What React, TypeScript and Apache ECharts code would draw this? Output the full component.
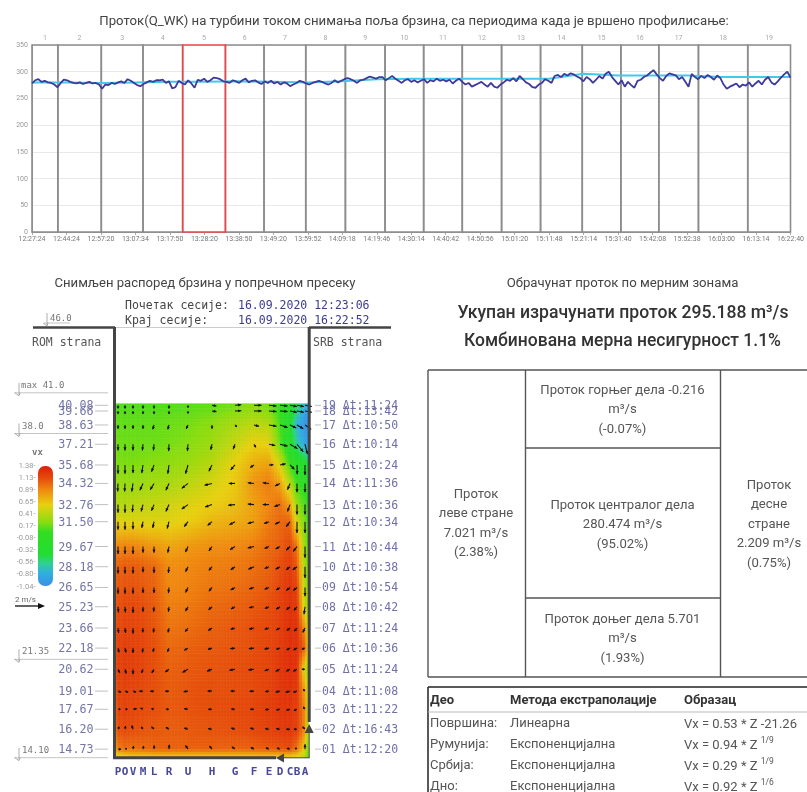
import React, { useEffect, useRef } from "react";
import * as echarts from "echarts";

const timeLabels = ["12:27:24","12:44:24","12:57:20","13:07:34","13:17:50","13:28:20","13:38:50","13:49:20","13:59:52","14:09:18","14:19:46","14:30:14","14:40:42","14:50:56","15:01:20","15:11:48","15:21:14","15:31:40","15:42:08","15:52:38","16:03:00","16:13:14","16:22:40"];
const periodBounds = [0,0.75,2.01,3.22,4.37,5.61,6.73,7.94,9.09,10.24,11.36,12.48,13.62,14.75,15.96,17.08,18.18,19.33,20.76,22];
const flow = [
278,284,286,281,283,280,279,276,271,279,
285,284,281,279,278,280,277,279,281,278,
279,276,268,276,275,279,277,280,282,279,
286,283,279,275,273,277,280,283,281,284,
284,285,279,282,269,271,283,279,276,284,
278,270,285,283,287,281,284,289,288,286,
282,281,279,284,282,279,284,287,280,283,
284,280,277,282,279,283,278,281,276,280,
278,273,276,279,283,281,278,276,279,281,
283,281,278,276,279,284,280,283,286,288,
286,283,279,284,285,288,291,289,287,290,
290,284,288,292,287,283,279,284,286,281,
284,280,283,286,279,284,282,287,283,285,
282,285,278,283,287,281,276,279,272,275,
278,281,276,272,279,272,270,276,280,285,
283,288,282,292,286,280,277,271,270,276,
279,286,283,279,292,294,290,296,293,297,
295,291,288,282,290,286,279,285,292,287,
296,300,290,283,276,284,272,281,275,270,
283,285,290,293,298,303,295,288,283,292,
297,295,293,286,290,281,272,296,290,286,
292,288,294,290,285,293,288,276,268,272,275,
];
const flowTail = [278,271,276,274,280,272,278,283,276,285,290,280,276,282,289,295,300,289];
const flowTrend = [280,280,279,280,281,281,282,281,280,282,286,287,287,287,287,287,296,293,293,293,290,290,290];
const yTicks = [0,50,100,150,200,250,300,350];

const depthLevels = [40.08,39.66,38.63,37.21,35.68,34.32,32.76,31.50,29.67,28.18,26.65,25.23,23.66,22.18,20.62,19.01,17.67,16.20,14.73];
const rowIds = ["19","18","17","16","15","14","13","12","11","10","09","08","07","06","05","04","03","02","01"];
const rowDurations = ["11:24","13:42","10:50","10:14","10:24","11:36","10:36","10:34","10:44","10:38","10:54","10:42","11:24","10:36","11:24","11:08","11:22","16:43","12:20"];
const columnNames = ["P","O","V","M","L","R","U","H","G","F","E","D","C","B","A"];
const stations = [1.5,5,9,14,19.5,27,36.5,48.5,60,69.5,77,82.5,87.5,91,95];
const heatStations = [0,1.5,5,9,14,19.5,27,36.5,48.5,60,69.5,77,82.5,87.5,91,95,97];
const heatDepths = [40.19,40.08,39.66,38.63,37.21,35.68,34.32,32.76,31.50,29.67,28.18,26.65,25.23,23.66,22.18,20.62,19.01,17.67,16.20,14.73,14.1];
const heat = [
[.12,.12,.12,.12,.12,.12,.12,.12,.15,.2,.25,.2,.05,-.15,-.45,-.7,-.8],
[.12,.12,.12,.12,.12,.12,.12,.13,.16,.2,.26,.21,.05,-.15,-.48,-.75,-.8],
[.13,.13,.13,.13,.13,.13,.14,.15,.18,.24,.3,.25,.05,-.2,-.55,-.85,-.9],
[.18,.16,.16,.16,.16,.16,.18,.2,.27,.36,.44,.4,.1,-.3,-.75,-1.0,-1.0],
[.2,.18,.18,.18,.18,.18,.2,.24,.32,.46,.6,.58,.18,-.2,-.6,-.85,-.9],
[.25,.22,.22,.22,.24,.26,.28,.32,.42,.6,.74,.8,.55,.08,-.12,-.3,-.4],
[.32,.3,.3,.3,.32,.34,.36,.42,.52,.62,.85,.95,.8,.4,.08,-.02,-.05],
[.42,.4,.4,.42,.44,.46,.5,.55,.6,.66,.8,.9,1.0,.8,.3,.1,.05],
[.6,.56,.55,.55,.55,.55,.56,.6,.7,.75,.8,.95,1.02,1.05,.5,.2,.1],
[.88,.9,.92,.92,.88,.84,.78,.83,.88,.9,.94,1.02,1.06,1.15,1.0,.28,.15],
[1.02,1.05,1.07,1.07,1.05,1.02,.88,.9,.94,.96,1.0,1.04,1.12,1.2,1.1,.32,.2],
[1.05,1.08,1.1,1.1,1.08,1.05,.9,.92,.97,1.0,1.04,1.08,1.16,1.25,1.2,.38,.25],
[1.07,1.12,1.14,1.14,1.12,1.08,.94,.96,1.02,1.05,1.08,1.12,1.18,1.26,1.25,.45,.3],
[1.1,1.14,1.16,1.16,1.14,1.1,.98,1.0,1.05,1.08,1.12,1.14,1.2,1.28,1.28,.85,.4],
[1.1,1.18,1.2,1.18,1.16,1.12,1.02,1.05,1.08,1.1,1.12,1.16,1.22,1.28,1.28,1.05,.5],
[1.08,1.18,1.2,1.19,1.16,1.12,1.05,1.08,1.1,1.12,1.14,1.16,1.24,1.28,1.28,.5,.3],
[1.05,1.16,1.18,1.16,1.14,1.12,1.07,1.1,1.12,1.12,1.14,1.18,1.24,1.26,1.24,.8,.4],
[1.02,1.15,1.17,1.15,1.13,1.12,1.08,1.1,1.12,1.14,1.16,1.2,1.24,1.24,1.2,.9,.35],
[.98,1.12,1.14,1.12,1.1,1.08,1.06,1.08,1.1,1.12,1.15,1.18,1.22,1.24,1.2,.9,.2],
[.8,.95,1.0,1.0,1.02,1.04,1.05,1.05,1.05,1.05,1.05,1.08,1.1,1.12,1.0,.6,.1],
[.45,.5,.55,.6,.6,.62,.62,.62,.62,.62,.62,.62,.62,.6,.55,.4,.1],
];
const arrowU = [
[0,0,0,0,0,0,0,.35,.5,.6,.6,.6,.55,.55,.55],
[0,0,0,0,0,0,0,.35,.5,.6,.6,.6,.55,.55,.55],
[0,0,0,0,-.1,-.1,-.15,0,.15,.4,.6,.6,.5,.5,.5],
[0,0,0,-.05,-.05,-.03,-.05,-.1,-.15,.15,.5,.6,.6,.5,.2],
[0,0,0,-.1,-.2,-.1,-.2,-.25,-.35,-.3,.35,.45,.35,.02,0],
[-.03,-.03,-.1,-.25,-.3,-.25,-.5,-.6,-.5,-.5,-.5,-.4,-.2,0,0],
[0,0,-.05,-.15,-.2,-.25,-.5,-.55,-.55,-.5,-.5,-.45,-.2,0,0],
[0,0,0,-.1,-.1,-.15,-.3,-.35,-.45,-.5,-.4,-.4,-.3,0,0],
[0,0,0,0,0,-.1,-.2,-.25,-.4,-.5,-.35,-.35,-.3,-.3,0],
[0,0,0,0,0,-.05,-.2,-.25,-.35,-.45,-.35,-.35,-.3,-.35,0],
[0,0,0,0,0,-.05,-.2,-.25,-.35,-.4,-.35,-.3,-.3,-.3,0],
[.03,.03,0,0,-.03,-.05,-.2,-.28,-.32,-.4,-.33,-.3,-.28,-.25,-.08],
[.05,.05,0,-.03,-.05,-.08,-.22,-.3,-.35,-.4,-.35,-.3,-.25,-.22,-.18],
[.08,.08,0,-.05,-.08,-.12,-.3,-.32,-.38,-.42,-.35,-.3,-.28,-.28,-.25],
[.15,.1,0,-.12,-.18,-.3,-.45,-.4,-.45,-.45,-.35,-.35,-.3,-.3,-.25],
[.25,.25,.25,-.3,-.3,-.3,-.35,-.35,-.35,-.35,-.3,-.35,-.35,-.3,-.15],
[.2,.2,.3,-.2,-.2,-.25,-.3,-.3,-.3,-.3,-.3,-.3,-.3,-.25,-.15],
[.1,.05,-.1,-.15,-.2,-.25,-.3,-.3,-.3,-.3,-.3,-.3,-.3,-.25,-.2],
[.25,.15,.05,.05,.02,.02,-.2,-.2,-.25,-.25,-.25,-.25,-.25,-.15,0],
];
const arrowV = [
[-.25,-.25,-.25,-.25,-.25,-.25,-.2,-.05,.05,0,-.05,-.05,-.1,-.1,-.1],
[-.25,-.25,-.25,-.25,-.25,-.25,-.2,-.05,.02,0,-.05,-.05,-.1,-.1,-.1],
[-.3,-.3,-.3,-.3,-.35,-.35,-.3,-.3,-.15,-.1,-.1,-.2,-.25,-.3,-.35],
[-.5,-.5,-.5,-.5,-.5,-.55,-.55,-.45,-.4,-.25,-.1,-.15,-.35,-.6,-.8],
[-.7,-.7,-.65,-.65,-.55,-.7,-.7,-.5,-.4,-.2,.02,.1,-.35,-.75,-.8],
[-.65,-.65,-.65,-.55,-.5,-.55,-.4,-.15,0,.05,.05,-.2,-.5,-.7,-.7],
[-.65,-.65,-.6,-.55,-.5,-.55,-.35,-.2,-.05,.05,0,-.15,-.55,-.8,-.8],
[-.65,-.65,-.6,-.5,-.5,-.55,-.4,-.3,-.25,-.15,-.15,-.2,-.4,-.9,-.9],
[-.6,-.6,-.6,-.5,-.5,-.5,-.45,-.35,-.25,-.12,-.15,-.2,-.3,-.4,-.9],
[-.55,-.55,-.55,-.45,-.5,-.5,-.4,-.3,-.25,-.2,-.15,-.2,-.25,-.25,-.9],
[-.5,-.5,-.5,-.45,-.45,-.45,-.4,-.3,-.2,-.12,-.15,-.2,-.25,-.25,-.7],
[-.45,-.45,-.5,-.4,-.4,-.4,-.35,-.25,-.18,-.08,-.15,-.2,-.25,-.3,-.6],
[-.4,-.4,-.45,-.35,-.35,-.35,-.3,-.2,-.1,-.08,-.1,-.15,-.2,-.25,-.35],
[-.35,-.35,-.4,-.35,-.3,-.3,-.18,-.1,-.05,-.05,-.08,-.1,-.15,-.15,-.1],
[-.3,-.35,-.4,-.3,-.3,-.22,-.25,-.15,-.08,-.05,-.12,-.15,-.15,-.15,0],
[-.1,-.1,-.1,-.02,-.02,-.02,-.05,0,0,-.02,-.05,-.08,-.1,-.1,.15],
[0,.02,.05,.1,.05,0,.05,0,.02,0,-.03,-.06,-.08,-.1,.2],
[.2,.25,.3,.2,.2,.15,.1,.05,.1,.1,.05,.05,0,0,.2],
[0,.05,.25,.25,.3,.35,.3,.25,.2,.15,.12,.1,.08,.1,.4],
];
const legendValues = ["1.38","1.13","0.89","0.65","0.41","0.17","-0.08","-0.32","-0.56","-0.80","-1.04"];
const levelValues = [46,41,38,21.35,14.1];
const levelNames = ["46.0","max 41.0","38.0","21.35","14.10"];
const colorStops = [
  { t: 0, c: "#3b8fe6" }, { t: .11, c: "#30b0e0" }, { t: .19, c: "#30d090" }, { t: .26, c: "#22dd33" },
  { t: .45, c: "#33dd22" }, { t: .53, c: "#88dd11" }, { t: .675, c: "#e8d010" }, { t: .8, c: "#f08a10" },
  { t: .9, c: "#e54a0c" }, { t: 1, c: "#dd1f08" },
];
const sideCells = [
  { x: 476, y: 493, lines: ["Проток", "леве стране", "7.021 m³/s", "(2.38%)"] },
  { x: 622.5, y: 389, lines: ["Проток горњег дела -0.216", "m³/s", "(-0.07%)"] },
  { x: 622.5, y: 504, lines: ["Проток централог дела", "280.474 m³/s", "(95.02%)"] },
  { x: 622.5, y: 618, lines: ["Проток доњег дела 5.701", "m³/s", "(1.93%)"] },
  { x: 769, y: 484, lines: ["Проток", "десне", "стране", "2.209 m³/s", "(0.75%)"] },
];
const tableHeader = ["Део", "Метода екстраполације", "Образац"];
const tableRows = [
  ["Површина:", "Линеарна", "Vx = 0.53 * Z -21.26", ""],
  ["Румунија:", "Експоненцијална", "Vx = 0.94 * Z ", "1/9"],
  ["Србија:", "Експоненцијална", "Vx = 0.29 * Z ", "1/9"],
  ["Дно:", "Експоненцијална", "Vx = 0.92 * Z ", "1/6"],
];

const MONO = '"DejaVu Sans Mono", monospace';
const SANS = "Roboto, sans-serif";
const OVER = 20;

const hexRgb = (h: string) => [1, 3, 5].map((i) => parseInt(h.slice(i, i + 2), 16));
function vxColor(v: number) {
  const t = Math.max(0, Math.min(1, (v + 1.04) / 2.42));
  for (let i = 1; i < colorStops.length; i++) {
    if (t <= colorStops[i].t) {
      const a = colorStops[i - 1], b = colorStops[i];
      const k = (t - a.t) / (b.t - a.t);
      const ca = hexRgb(a.c), cb = hexRgb(b.c);
      return `rgb(${ca.map((x, j) => Math.round(x + (cb[j] - x) * k)).join(",")})`;
    }
  }
  return colorStops[colorStops.length - 1].c;
}

const flowAll = [...flow, ...flowTail];
const flowData = flowAll.map((v, i) => [(i * 22) / (flowAll.length - 1), v]);
const trendData = flowTrend.map((v, i) => [i, v]);

const heatCells: number[][] = [];
for (let r = 0; r < heatDepths.length - 1; r++) {
  for (let c = 0; c < heatStations.length - 1; c++) {
    heatCells.push([heatStations[c], heatDepths[r], heatStations[c + 1], heatDepths[r + 1], heat[r][c], heat[r][c + 1], heat[r + 1][c], heat[r + 1][c + 1]]);
  }
}
const arrowData: number[][] = [];
depthLevels.forEach((z, r) => stations.forEach((x, c) => arrowData.push([x, z, arrowU[r][c], arrowV[r][c]])));

function renderHeat(_: any, api: any) {
  const [x0, y0] = api.coord([api.value(0), api.value(1)]);
  const [x1, y1] = api.coord([api.value(2), api.value(3)]);
  const tl = api.value(4), tr = api.value(5), bl = api.value(6), br = api.value(7);
  const nx = Math.max(1, Math.ceil((x1 - x0) / 3));
  const ny = Math.max(1, Math.ceil((y1 - y0) / 3));
  const children: any[] = [];
  for (let i = 0; i < nx; i++) {
    for (let j = 0; j < ny; j++) {
      const a = (i + 0.5) / nx, b = (j + 0.5) / ny;
      const v = (tl * (1 - a) + tr * a) * (1 - b) + (bl * (1 - a) + br * a) * b;
      const fill = vxColor(v);
      children.push({
        type: "rect",
        shape: { x: x0 + ((x1 - x0) * i) / nx, y: y0 + ((y1 - y0) * j) / ny, width: (x1 - x0) / nx, height: (y1 - y0) / ny },
        style: { fill, stroke: fill, lineWidth: 0.6 },
      });
    }
  }
  return { type: "group", children };
}

const ARROW_PX_PER_MS = 12.5;
function renderArrow(_: any, api: any) {
  const [x, y] = api.coord([api.value(0), api.value(1)]);
  const dx = api.value(2) * ARROW_PX_PER_MS, dy = -api.value(3) * ARROW_PX_PER_MS;
  const len = Math.hypot(dx, dy) || 1;
  const ux = dx / len, uy = dy / len;
  const ex = x + dx, ey = y + dy;
  const hl = Math.min(3.2, len * 0.6), hw = 1.5;
  return {
    type: "group",
    children: [
      { type: "line", shape: { x1: x, y1: y, x2: ex, y2: ey }, style: { stroke: "#111", lineWidth: 1.1 } },
      {
        type: "polygon",
        shape: { points: [[ex, ey], [ex - ux * hl - uy * hw, ey - uy * hl + ux * hw], [ex - ux * hl + uy * hw, ey - uy * hl - ux * hw]] },
        style: { fill: "#111" },
      },
    ],
  };
}

function renderLevel(params: any, api: any) {
  const y = api.coord([0, api.value(1)])[1];
  const i = params.dataIndex;
  const short = i === 0;
  const ly = short ? y - 2 : y;
  const x0 = short ? 44 : 14, x1 = short ? 70 : 108, tickX = short ? 47 : 19;
  const textX = short ? 50 : i === 1 ? 21 : 22;
  return {
    type: "group",
    children: [
      { type: "line", shape: { x1: x0, y1: ly, x2: x1, y2: ly }, style: { stroke: "#c4c4c4", lineWidth: 1 } },
      { type: "line", shape: { x1: tickX, y1: ly - 10, x2: tickX, y2: ly + 2 }, style: { stroke: "#999", lineWidth: 0.8 } },
      { type: "polyline", shape: { points: [[tickX - 4, ly], [tickX, ly + 3], [tickX + 1, ly]] }, style: { stroke: "#999", fill: "none", lineWidth: 0.8 } },
      { type: "text", style: { text: levelNames[i], x: textX, y: short ? ly - 5 : ly - 8, font: `9px ${MONO}`, fill: "#777", textVerticalAlign: "middle" } },
    ],
  };
}

function renderRowLabel(params: any, api: any) {
  const y = api.coord([0, api.value(1)])[1];
  const i = params.dataIndex;
  return {
    type: "group",
    children: [
      { type: "line", shape: { x1: 95, y1: y, x2: 108, y2: y }, style: { stroke: "#c0c0c0", lineWidth: 1 } },
      { type: "line", shape: { x1: 315, y1: y, x2: 321, y2: y }, style: { stroke: "#c0c0c0", lineWidth: 1 } },
      { type: "text", style: { text: depthLevels[i].toFixed(2), x: 93.5, y, font: `11.7px ${MONO}`, fill: "#7474a8", textAlign: "right", textVerticalAlign: "middle" } },
      { type: "text", style: { text: `${rowIds[i]} Δt:${rowDurations[i]}`, x: 322, y, font: `11.5px ${MONO}`, fill: "#7070a8", textAlign: "left", textVerticalAlign: "middle" } },
    ],
  };
}

const T = (text: string, x: number, y: number, font: string, fill: string, textAlign = "left") => ({
  type: "text", silent: true, z: OVER, style: { text, x, y, font, fill, textAlign, textVerticalAlign: "middle" },
});
const L = (x1: number, y1: number, x2: number, y2: number, stroke: string, lineWidth = 1) => ({
  type: "line", silent: true, z: OVER, shape: { x1, y1, x2, y2 }, style: { stroke, lineWidth },
});

function buildGraphics() {
  const els: any[] = [];
  els.push(T("Проток(Q_WK) на турбини током снимања поља брзина, са периодима када је вршено профилисање:", 414, 20, `13.2px ${SANS}`, "#444", "center"));
  els.push(T("Снимљен распоред брзина у попречном пресеку", 205, 282, `13.1px ${SANS}`, "#444", "center"));
  els.push(T("Обрачунат проток по мерним зонама", 622.5, 282, `13.2px ${SANS}`, "#444", "center"));
  els.push(T("Укупан израчунати проток 295.188 m³/s", 623, 312, `500 17.6px ${SANS}`, "#333", "center"));
  els.push(T("Комбинована мерна несигурност 1.1%", 622.5, 340, `500 17.5px ${SANS}`, "#333", "center"));

  els.push(T("Почетак сесије:", 125, 305, `11.5px ${MONO}`, "#444"));
  els.push(T("Крај сесије:", 125, 320, `11.5px ${MONO}`, "#444"));
  els.push(T("16.09.2020 12:23:06", 238, 305, `11.5px ${MONO}`, "#3c3c8c"));
  els.push(T("16.09.2020 16:22:52", 238, 320, `11.5px ${MONO}`, "#3c3c8c"));
  els.push(T("ROM strana", 32, 342, `11.5px ${MONO}`, "#555"));
  els.push(T("SRB strana", 313, 342, `11.5px ${MONO}`, "#555"));

  // walls
  els.push(L(33, 327.5, 115, 327.5, "#444", 2.5));
  els.push(L(309, 327.5, 391, 327.5, "#444", 2.5));
  els.push(L(115, 327.5, 309, 327.5, "#ccc", 1));
  els.push(L(114.5, 327, 114.5, 759, "#444", 3));
  els.push(L(113, 757.8, 276, 757.8, "#444", 3));
  els.push(L(280, 757.8, 309.5, 757.8, "#444", 1));
  els.push(L(309.2, 327, 309.2, 722, "#444", 3));
  els.push(L(309.2, 730, 309.2, 758, "#444", 1));
  els.push({ type: "polygon", silent: true, z: OVER, shape: { points: [[276, 758], [284, 753.5], [284, 762.5]] }, style: { fill: "#444" } });
  els.push({ type: "polygon", silent: true, z: OVER, shape: { points: [[309.2, 724], [304.7, 733], [313.7, 733]] }, style: { fill: "#444" } });

  // legend
  els.push(T("vx", 37.5, 452, `bold 9px ${MONO}`, "#777", "center"));
  legendValues.forEach((v, i) => els.push(T(`${v}-`, 35.5, 465.5 + i * 12.05, `7.5px ${SANS}`, "#9a9a9a", "right")));
  els.push({
    type: "rect", silent: true, z: OVER,
    shape: { x: 38, y: 466, width: 15, height: 120, r: 7 },
    style: {
      fill: {
        type: "linear", x: 0, y: 1, x2: 0, y2: 0, global: false,
        colorStops: colorStops.map((s) => ({ offset: s.t, color: s.c })),
      },
    },
  });
  els.push(T("2 m/s", 15, 599, `8px ${SANS}`, "#666"));
  els.push(L(15, 606, 40, 606, "#222", 1.4));
  els.push({ type: "polygon", silent: true, z: OVER, shape: { points: [[45, 606], [38, 603], [38, 609]] }, style: { fill: "#111" } });

  // zone box
  const c = "#555";
  els.push(L(428, 370, 807, 370, c, 1.4));
  els.push(L(428, 677, 807, 677, c, 1.4));
  els.push(L(428, 370, 428, 677, c, 1.4));
  els.push(L(525.5, 370, 525.5, 677, c, 1.4));
  els.push(L(720.5, 370, 720.5, 677, c, 1.4));
  els.push(L(525.5, 448, 720.5, 448, c, 1.4));
  els.push(L(525.5, 598, 720.5, 598, c, 1.4));
  sideCells.forEach((cell) => cell.lines.forEach((ln, i) => els.push(T(ln, cell.x, cell.y + i * 19.5, `13.1px ${SANS}`, "#555", "center"))));

  // method table
  els.push(L(428, 687, 807, 687, "#222", 1.5));
  els.push(L(428, 687, 428, 792, "#222", 1.5));
  els.push(L(428, 712, 807, 712, "#bbb", 1));
  const cols = [430, 510, 684];
  tableHeader.forEach((h, i) => els.push(T(h, cols[i], 699, `bold 13px ${SANS}`, "#333")));
  tableRows.forEach((row, r) => {
    const y = 722 + r * 21;
    els.push(T(row[0], cols[0], y, `13px ${SANS}`, "#555"));
    els.push(T(row[1], cols[1], y, `13px ${SANS}`, "#555"));
    els.push({
      type: "text", silent: true, z: OVER,
      style: {
        x: cols[2], y, textVerticalAlign: "middle",
        text: `{a|${row[2]}}{s|${row[3]}}`,
        rich: {
          a: { font: `13px ${SANS}`, fill: "#555", verticalAlign: "bottom" },
          s: { font: `8.5px ${SANS}`, fill: "#555", verticalAlign: "top", padding: [0, 0, 6, 0] },
        },
      },
    });
  });
  return els;
}

export default function App() {
  const ref = useRef<HTMLDivElement>(null);
  useEffect(() => {
    if (!ref.current) return;
    const chart = echarts.init(ref.current, undefined, { renderer: "svg" });
    const areaItems = periodBounds.slice(0, -1).map((b, i) => [
      { xAxis: b, name: String(i + 1) },
      { xAxis: periodBounds[i + 1] },
    ]);
    const plain = areaItems.filter((_, i) => i !== 4);
    const active = areaItems[4];
    chart.setOption({
      animation: false,
      backgroundColor: "#fff",
      grid: [
        { left: 32, right: 10, top: 45, height: 187 },
        { left: 115, width: 194, top: 325, height: 432.7 },
      ],
      xAxis: [
        {
          type: "value", gridIndex: 0, min: 0, max: 22, interval: 1, splitLine: { show: false },
          axisLine: { lineStyle: { color: "#999" } }, axisTick: { length: 3, lineStyle: { color: "#aaa" } },
          axisLabel: { formatter: (v: number) => timeLabels[v] ?? "", fontSize: 7, color: "#777", margin: 3, fontFamily: SANS, hideOverlap: false },
        },
        {
          type: "value", gridIndex: 1, min: 0, max: 97, splitLine: { show: false }, axisLine: { show: false }, axisTick: { show: false },
          axisLabel: {
            customValues: stations, margin: 8, color: "#48489a", fontFamily: MONO, fontWeight: 600, fontSize: 11,
            formatter: (v: number) => columnNames[stations.indexOf(v)] ?? "",
          },
        },
      ],
      yAxis: [
        {
          type: "value", gridIndex: 0, min: 0, max: 350, interval: 50,
          splitLine: { lineStyle: { color: "#e9e9e9" } }, axisLine: { show: true, lineStyle: { color: "#999" } }, axisTick: { show: false },
          axisLabel: { fontSize: 7, color: "#999", margin: 4, fontFamily: SANS, customValues: yTicks },
        },
        {
          type: "value", gridIndex: 1, min: 14.1, max: 46, position: "left", splitLine: { show: false }, axisLine: { show: false },
          axisTick: { show: false }, axisLabel: { show: false },
        },
      ],
      series: [
        {
          type: "line", name: "trend", xAxisIndex: 0, yAxisIndex: 0, data: trendData, showSymbol: false, z: 3, silent: true,
          lineStyle: { color: "#45c8ea", width: 2 },
          markArea: {
            silent: true, z: 1,
            itemStyle: { color: "transparent", borderColor: "#8c8c8c", borderWidth: 1.6 },
            label: { position: "top", distance: 3, fontSize: 7, color: "#aaa", fontFamily: SANS },
            data: plain,
          },
        },
        {
          type: "line", name: "Q_WK", xAxisIndex: 0, yAxisIndex: 0, data: flowData, showSymbol: false, z: 4, silent: true,
          lineStyle: { color: "#3d3a9c", width: 1.8 },
          markArea: {
            silent: true, z: 2,
            itemStyle: { color: "transparent", borderColor: "#f0444a", borderWidth: 1.6 },
            label: { position: "top", distance: 3, fontSize: 7, color: "#aaa", fontFamily: SANS },
            data: [active],
          },
        },
        { type: "custom", name: "vx", xAxisIndex: 1, yAxisIndex: 1, renderItem: renderHeat, data: heatCells, z: 1, silent: true, clip: true, encode: { x: 0, y: 1 } },
        { type: "custom", name: "vectors", xAxisIndex: 1, yAxisIndex: 1, renderItem: renderArrow, data: arrowData, z: 2, silent: true, encode: { x: 0, y: 1 } },
        { type: "custom", name: "levels", xAxisIndex: 1, yAxisIndex: 1, renderItem: renderLevel, data: levelValues.map((v) => [0, v]), z: 3, silent: true, encode: { x: 0, y: 1 } },
        { type: "custom", name: "rows", xAxisIndex: 1, yAxisIndex: 1, renderItem: renderRowLabel, data: depthLevels.map((v) => [0, v]), z: 3, silent: true, encode: { x: 0, y: 1 } },
      ],
      graphic: { elements: buildGraphics() },
    });
    return () => chart.dispose();
  }, []);
  return <div ref={ref} style={{ position: "absolute", left: 0, top: 0, width: 807, height: 792, filter: "blur(0.4px)" }} />;
}
